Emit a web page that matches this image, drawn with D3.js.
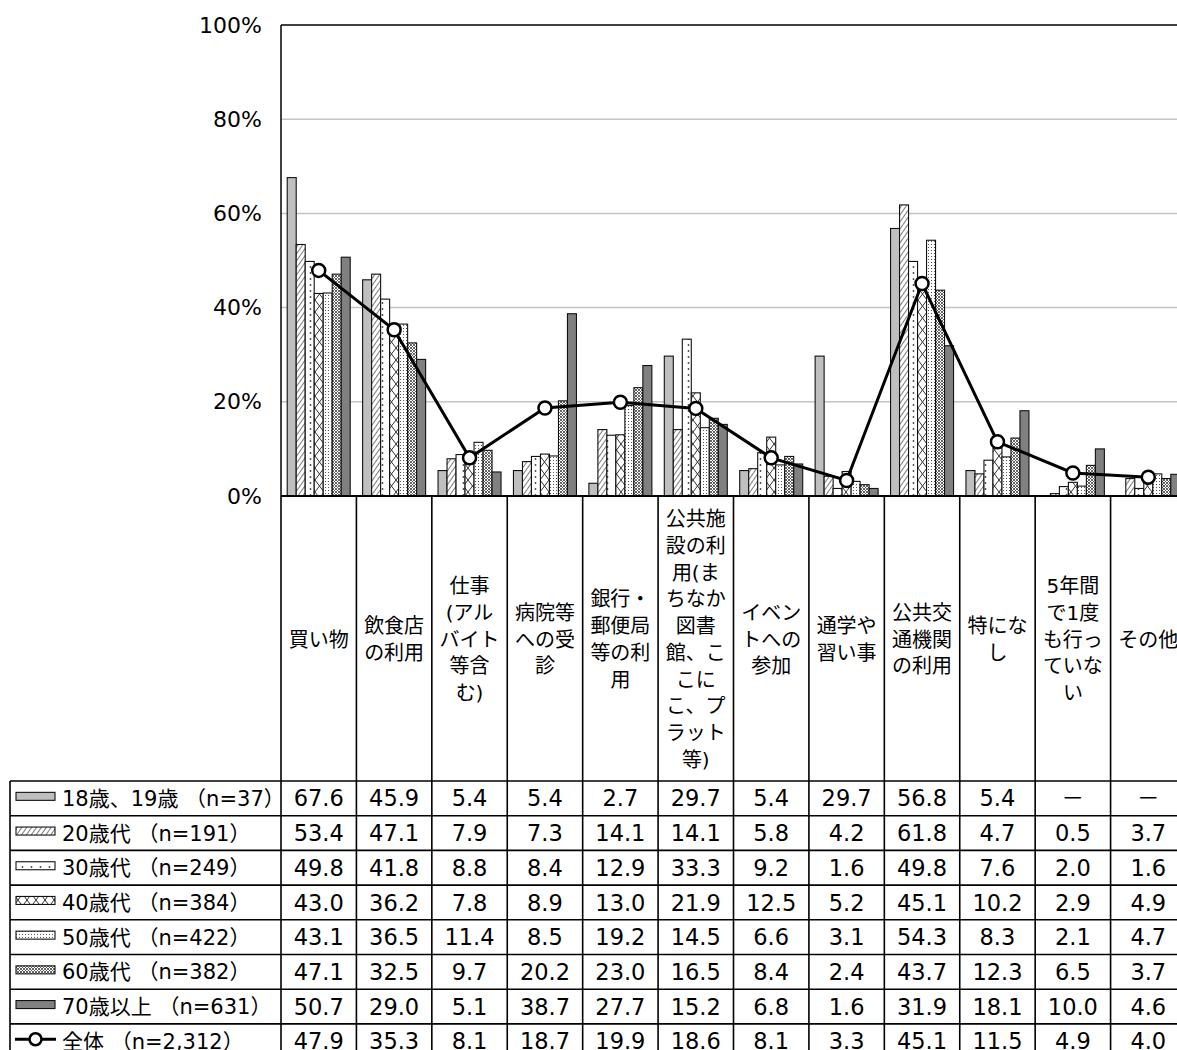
<!DOCTYPE html>
<html lang="ja">
<head>
<meta charset="utf-8">
<script src="https://cdn.jsdelivr.net/npm/d3@7"></script>
<style>
  html, body { margin: 0; padding: 0; background: #fff; overflow: hidden; }
  svg { display: block; }
  text { font-family: "DejaVu Sans", "Noto Sans CJK JP", sans-serif; fill: #000; }
</style>
</head>
<body>
<svg id="chart" width="1177" height="1050"></svg>
<script>
// Categories (label lines as they wrap under the plot)
const categories = [
  ["買い物"],
  ["飲食店", "の利用"],
  ["仕事", "(アル", "バイト", "等含", "む)"],
  ["病院等", "への受", "診"],
  ["銀行・", "郵便局", "等の利", "用"],
  ["公共施", "設の利", "用(ま", "ちなか", "図書", "館、こ", "こに", "こ、プ", "ラット", "等)"],
  ["イベン", "トへの", "参加"],
  ["通学や", "習い事"],
  ["公共交", "通機関", "の利用"],
  ["特にな", "し"],
  ["5年間", "で1度", "も行っ", "ていな", "い"],
  ["その他"]
];

const seriesNames = [
  "18歳、19歳 （n=37）",
  "20歳代 （n=191）",
  "30歳代 （n=249）",
  "40歳代 （n=384）",
  "50歳代 （n=422）",
  "60歳代 （n=382）",
  "70歳以上 （n=631）"
];
const totalName = "全体 （n=2,312）";

// Percentages per age group (null = no respondents, shown as "－")
const age18_19 = [67.6, 45.9, 5.4, 5.4, 2.7, 29.7, 5.4, 29.7, 56.8, 5.4, null, null];
const age20s   = [53.4, 47.1, 7.9, 7.3, 14.1, 14.1, 5.8, 4.2, 61.8, 4.7, 0.5, 3.7];
const age30s   = [49.8, 41.8, 8.8, 8.4, 12.9, 33.3, 9.2, 1.6, 49.8, 7.6, 2.0, 1.6];
const age40s   = [43.0, 36.2, 7.8, 8.9, 13.0, 21.9, 12.5, 5.2, 45.1, 10.2, 2.9, 4.9];
const age50s   = [43.1, 36.5, 11.4, 8.5, 19.2, 14.5, 6.6, 3.1, 54.3, 8.3, 2.1, 4.7];
const age60s   = [47.1, 32.5, 9.7, 20.2, 23.0, 16.5, 8.4, 2.4, 43.7, 12.3, 6.5, 3.7];
const age70up  = [50.7, 29.0, 5.1, 38.7, 27.7, 15.2, 6.8, 1.6, 31.9, 18.1, 10.0, 4.6];
const total    = [47.9, 35.3, 8.1, 18.7, 19.9, 18.6, 8.1, 3.3, 45.1, 11.5, 4.9, 4.0];

const yTicks = [0, 20, 40, 60, 80, 100];

const seriesValues = [age18_19, age20s, age30s, age40s, age50s, age60s, age70up];

// ---- layout ----
const plotLeft = 281, plotRight = 1186, plotTop = 25, plotBottom = 496;
const tableTop = 781, rowH = 34.7, tableLeft = 10;

const svg = d3.select("#chart");
const defs = svg.append("defs");

// fill patterns for each age group
function pat(id, w, h, build, transform) {
  const p = defs.append("pattern").attr("id", id).attr("patternUnits", "userSpaceOnUse")
    .attr("width", w).attr("height", h);
  if (transform) p.attr("patternTransform", transform);
  p.append("rect").attr("width", w).attr("height", h).attr("fill", "#fff");
  build(p);
}
pat("p20", 4, 4, p => {
  p.append("line").attr("x1", 0).attr("y1", 0).attr("x2", 0).attr("y2", 4)
    .attr("stroke", "#333").attr("stroke-width", 1.3);
}, "rotate(35)");
pat("p30", 9, 6, p => {
  p.append("circle").attr("cx", 4.5).attr("cy", 3).attr("r", 0.9).attr("fill", "#444");
});
pat("p40", 9, 12, p => {
  p.append("path").attr("d", "M0,0L9,12M9,0L0,12").attr("stroke", "#333").attr("stroke-width", 1).attr("fill", "none");
});
pat("p50", 3, 3, p => {
  p.append("rect").attr("x", 1).attr("y", 1).attr("width", 1).attr("height", 1).attr("fill", "#555");
});
pat("p60", 3, 3, p => {
  p.append("path").attr("d", "M0,0L3,3M3,0L0,3").attr("stroke", "#555").attr("stroke-width", 0.9).attr("fill", "none");
});

const fills = ["#bfbfbf", "url(#p20)", "url(#p30)", "url(#p40)", "url(#p50)", "url(#p60)", "#808080"];

const x0 = d3.scaleBand().domain(d3.range(categories.length)).range([plotLeft, plotRight]);
const x1 = d3.scaleBand().domain(d3.range(seriesValues.length)).range([0, x0.bandwidth()])
  .paddingInner(0).paddingOuter(0.69);
const y = d3.scaleLinear().domain([0, 100]).range([plotBottom, plotTop]);

// gridlines
svg.append("g").selectAll("line").data(yTicks.filter(t => t > 0 && t < 100)).join("line")
  .attr("x1", plotLeft).attr("x2", plotRight)
  .attr("y1", d => y(d)).attr("y2", d => y(d))
  .attr("stroke", "#c4c4c4").attr("stroke-width", 1.5);

// y-axis
const yAxis = d3.axisLeft(y).tickValues(yTicks).tickFormat(d => d + "%").tickSize(0).tickPadding(19);
const gy = svg.append("g").attr("transform", `translate(${plotLeft},0)`).call(yAxis);
gy.select(".domain").remove();
gy.selectAll("text").attr("font-size", 22).attr("font-family", "'DejaVu Sans', sans-serif");

// bars
const gBars = svg.append("g");
seriesValues.forEach((vals, si) => {
  gBars.append("g").selectAll("rect")
    .data(vals.map((v, ci) => ({ v, ci })).filter(d => d.v != null))
    .join("rect")
    .attr("x", d => x0(d.ci) + x1(si))
    .attr("width", x1.bandwidth())
    .attr("y", d => y(d.v))
    .attr("height", d => y(0) - y(d.v))
    .attr("fill", fills[si])
    .attr("stroke", "#111").attr("stroke-width", 1.1);
});

// plot frame
svg.append("line").attr("x1", plotLeft).attr("x2", plotRight).attr("y1", plotTop).attr("y2", plotTop)
  .attr("stroke", "#000").attr("stroke-width", 1.5);
svg.append("line").attr("x1", plotLeft).attr("x2", plotLeft).attr("y1", plotTop).attr("y2", plotBottom)
  .attr("stroke", "#000").attr("stroke-width", 1.5);

// total line
const lineGen = d3.line().x((d, i) => x0(i) + x0.bandwidth() / 2).y(d => y(d));
svg.append("path").datum(total).attr("d", lineGen)
  .attr("fill", "none").attr("stroke", "#000").attr("stroke-width", 3);
svg.append("g").selectAll("circle").data(total).join("circle")
  .attr("cx", (d, i) => x0(i) + x0.bandwidth() / 2).attr("cy", d => y(d))
  .attr("r", 6.5).attr("fill", "#fff").attr("stroke", "#000").attr("stroke-width", 2.5);

// ---- table ----
const rows = seriesValues.concat([total]);
const rowNames = seriesNames.concat([totalName]);
const tableBottom = tableTop + rowH * rows.length;
const gT = svg.append("g");

// horizontal rules
gT.append("line").attr("x1", plotLeft).attr("x2", plotRight).attr("y1", plotBottom).attr("y2", plotBottom)
  .attr("stroke", "#000").attr("stroke-width", 2);
gT.selectAll("line.h").data(d3.range(rows.length + 1)).join("line").attr("class", "h")
  .attr("x1", tableLeft).attr("x2", plotRight)
  .attr("y1", i => tableTop + i * rowH).attr("y2", i => tableTop + i * rowH)
  .attr("stroke", "#000").attr("stroke-width", 1.6);
// vertical rules
const vx = d3.range(categories.length + 1).map(i => i < categories.length ? x0(i) : plotRight);
gT.selectAll("line.v").data(vx).join("line").attr("class", "v")
  .attr("x1", d => d).attr("x2", d => d)
  .attr("y1", plotBottom).attr("y2", tableBottom)
  .attr("stroke", "#000").attr("stroke-width", 1.6);
gT.append("line").attr("x1", tableLeft).attr("x2", tableLeft).attr("y1", tableTop).attr("y2", tableBottom)
  .attr("stroke", "#000").attr("stroke-width", 1.6);

// category labels
const labelMid = (plotBottom + tableTop) / 2 + 1;
const lh = 26.7;
categories.forEach((lines, ci) => {
  const cx = x0(ci) + x0.bandwidth() / 2;
  const t = gT.append("text").attr("text-anchor", "middle").attr("font-size", 20);
  lines.forEach((ln, k) => {
    t.append("tspan").attr("x", cx)
      .attr("y", labelMid + (k - (lines.length - 1) / 2) * lh)
      .attr("dy", "0.35em").text(ln);
  });
});

// table cells
rows.forEach((vals, ri) => {
  const cy = tableTop + (ri + 0.5) * rowH;
  gT.append("g").selectAll("text").data(vals).join("text")
    .attr("x", (d, ci) => x0(ci) + x0.bandwidth() / 2)
    .attr("y", cy).attr("dy", "0.36em")
    .attr("text-anchor", "middle").attr("font-size", 22.5)
    .text(d => d == null ? "－" : d.toFixed(1));
  // legend key + name
  gT.append("text").attr("x", 62).attr("y", cy).attr("dy", "0.36em")
    .attr("font-size", 21).text(rowNames[ri]);
  if (ri < seriesValues.length) {
    gT.append("rect").attr("x", 16).attr("y", cy - 6).attr("width", 39).attr("height", 8)
      .attr("fill", fills[ri]).attr("stroke", "#111").attr("stroke-width", 1.1);
  } else {
    gT.append("line").attr("x1", 15).attr("x2", 56).attr("y1", cy - 2).attr("y2", cy - 2)
      .attr("stroke", "#000").attr("stroke-width", 3);
    gT.append("circle").attr("cx", 35.5).attr("cy", cy - 2).attr("r", 6)
      .attr("fill", "#fff").attr("stroke", "#000").attr("stroke-width", 2.5);
  }
});
</script>
</body>
</html>
